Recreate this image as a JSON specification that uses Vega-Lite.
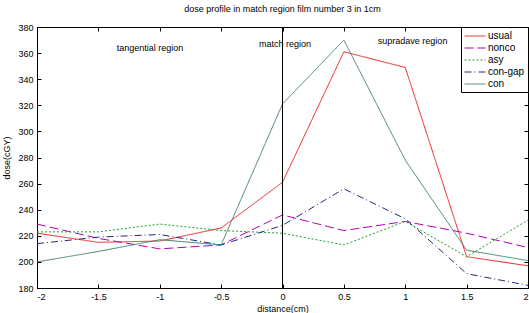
{
  "$schema": "https://vega.github.io/schema/vega-lite/v6.json",
  "width": 491,
  "height": 261,
  "autosize": {"type": "none"},
  "padding": {"left": 37, "top": 27, "right": 1, "bottom": 25},
  "background": "white",
  "config": {
    "font": "Liberation Sans",
    "view": {"stroke": "black", "strokeWidth": 1},
    "axis": {"domainColor": "black", "tickColor": "black", "labelColor": "black", "titleColor": "black", "labelFont": "Liberation Sans", "titleFont": "Liberation Sans", "labelFontSize": 9, "titleFontSize": 9, "titleFontWeight": "normal", "grid": false, "tickSize": -4, "labelPadding": 8},
    "legend": {"orient": "top-right", "offset": 0, "strokeColor": "black", "fillColor": "white", "padding": 3, "symbolType": "M-2,0H2", "symbolSize": 110, "symbolStrokeWidth": 1, "symbolOffset": 5, "labelFontSize": 10, "labelFont": "Liberation Sans", "labelColor": "black", "rowPadding": 1, "labelOffset": 7}
  },
  "title": {"text": "dose profile in match region film number 3 in 1cm", "fontSize": 9, "fontWeight": "normal", "font": "Liberation Sans", "color": "black", "offset": 9},
  "layer": [
    {
      "data": {"values": [
        {"x": -2, "dose": 222, "series": "usual"}, {"x": -1.5, "dose": 215, "series": "usual"}, {"x": -1, "dose": 216, "series": "usual"}, {"x": -0.5, "dose": 226, "series": "usual"}, {"x": 0, "dose": 261, "series": "usual"}, {"x": 0.5, "dose": 361, "series": "usual"}, {"x": 1, "dose": 349, "series": "usual"}, {"x": 1.5, "dose": 204, "series": "usual"}, {"x": 2, "dose": 197, "series": "usual"},
        {"x": -2, "dose": 229, "series": "nonco"}, {"x": -1.5, "dose": 218, "series": "nonco"}, {"x": -1, "dose": 210, "series": "nonco"}, {"x": -0.5, "dose": 213, "series": "nonco"}, {"x": 0, "dose": 236, "series": "nonco"}, {"x": 0.5, "dose": 224, "series": "nonco"}, {"x": 1, "dose": 231, "series": "nonco"}, {"x": 1.5, "dose": 222, "series": "nonco"}, {"x": 2, "dose": 211, "series": "nonco"},
        {"x": -2, "dose": 223, "series": "asy"}, {"x": -1.5, "dose": 223, "series": "asy"}, {"x": -1, "dose": 229, "series": "asy"}, {"x": -0.5, "dose": 224, "series": "asy"}, {"x": 0, "dose": 222, "series": "asy"}, {"x": 0.5, "dose": 213, "series": "asy"}, {"x": 1, "dose": 231, "series": "asy"}, {"x": 1.5, "dose": 204, "series": "asy"}, {"x": 2, "dose": 232, "series": "asy"},
        {"x": -2, "dose": 214, "series": "con-gap"}, {"x": -1.5, "dose": 219, "series": "con-gap"}, {"x": -1, "dose": 221, "series": "con-gap"}, {"x": -0.5, "dose": 213, "series": "con-gap"}, {"x": 0, "dose": 228, "series": "con-gap"}, {"x": 0.5, "dose": 256, "series": "con-gap"}, {"x": 1, "dose": 233, "series": "con-gap"}, {"x": 1.5, "dose": 191, "series": "con-gap"}, {"x": 2, "dose": 182, "series": "con-gap"},
        {"x": -2, "dose": 200, "series": "con"}, {"x": -1.5, "dose": 208, "series": "con"}, {"x": -1, "dose": 217, "series": "con"}, {"x": -0.5, "dose": 213, "series": "con"}, {"x": 0, "dose": 321, "series": "con"}, {"x": 0.5, "dose": 370, "series": "con"}, {"x": 1, "dose": 278, "series": "con"}, {"x": 1.5, "dose": 209, "series": "con"}, {"x": 2, "dose": 201, "series": "con"}
      ]},
      "mark": {"type": "line", "strokeWidth": 1},
      "encoding": {
        "x": {"field": "x", "type": "quantitative", "scale": {"domain": [-2, 2], "nice": false, "zero": false}, "axis": {"values": [-2, -1.5, -1, -0.5, 0, 0.5, 1, 1.5, 2], "labelExpr": "datum.value + ''", "title": "distance(cm)", "titlePadding": 3}},
        "y": {"field": "dose", "type": "quantitative", "scale": {"domain": [180, 380], "nice": false, "zero": false}, "axis": {"values": [180, 200, 220, 240, 260, 280, 300, 320, 340, 360, 380], "title": "dose(cGY)", "titlePadding": 6}},
        "color": {"field": "series", "type": "nominal", "scale": {"domain": ["usual", "nonco", "asy", "con-gap", "con"], "range": ["#ee2222", "#b400b4", "#22a022", "#1e2a78", "#4a8070"]}, "legend": {"title": null}},
        "strokeDash": {"field": "series", "type": "nominal", "scale": {"domain": ["usual", "nonco", "asy", "con-gap", "con"], "range": [[1, 0], [9, 4], [2, 2], [7, 3, 1, 3], [1, 0]]}, "legend": {"title": null}}
      }
    },
    {
      "data": {"values": [{"x": 0}]},
      "mark": {"type": "rule", "color": "black", "strokeWidth": 1},
      "encoding": {"x": {"field": "x", "type": "quantitative", "axis": null}}
    },
    {
      "data": {"values": [
        {"x": -1.08, "dose": 363.7, "label": "tangential region"},
        {"x": 0.02, "dose": 367.2, "label": "match region"},
        {"x": 1.06, "dose": 369.3, "label": "supradave region"}
      ]},
      "mark": {"type": "text", "fontSize": 9, "color": "black", "baseline": "middle", "align": "center"},
      "encoding": {
        "x": {"field": "x", "type": "quantitative", "axis": {"orient": "top", "labels": false, "title": null, "values": [-2, -1.5, -1, -0.5, 0, 0.5, 1, 1.5, 2]}},
        "y": {"field": "dose", "type": "quantitative", "axis": {"orient": "right", "labels": false, "title": null, "values": [180, 200, 220, 240, 260, 280, 300, 320, 340, 360, 380]}},
        "text": {"field": "label"}
      }
    }
  ],
  "resolve": {"axis": {"x": "independent", "y": "independent"}}
}
